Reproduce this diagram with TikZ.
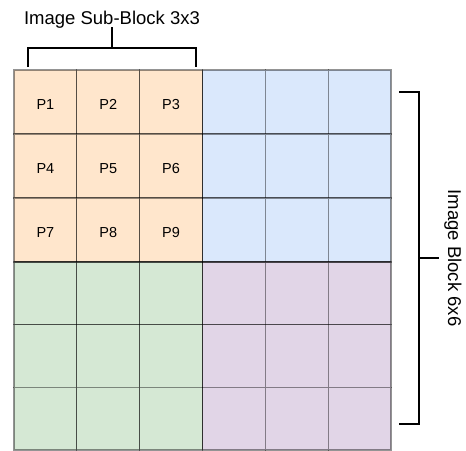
\documentclass[tikz,border=0pt]{standalone}
\usepackage{fontspec}
\setmainfont{Liberation Sans}
\definecolor{tlfill}{HTML}{FFE6CC}
\definecolor{trfill}{HTML}{DAE8FC}
\definecolor{blfill}{HTML}{D5E8D4}
\definecolor{brfill}{HTML}{E1D5E7}
\begin{document}
\begin{tikzpicture}[x=1pt,y=-1pt,
  cell/.style={draw=black, draw opacity=0.42, line width=1.3pt, inner sep=0pt,
    minimum width=62.83pt},
  pixel/.style={inner sep=0pt, text height=10.5pt, text depth=0pt,
    font=\fontsize{14.5}{16}\selectfont},
  divider/.style={draw=black, draw opacity=0.45, line width=1.5pt},
  bracket/.style={draw=black, line width=2pt},
  caption/.style={font=\fontsize{18.5}{21}\selectfont, inner sep=0pt}]
\useasboundingbox (0,0) rectangle (466,450);

% 6x6 block of cells, four 3x3 coloured sub-blocks
\foreach \r in {1,...,6}{
  \foreach \c in {1,...,6}{
    \pgfmathsetmacro{\cx}{14+(\c-0.5)*62.833}
    \pgfmathsetmacro{\cy}{\r<4 ? 70+(\r-0.5)*64 : 262+(\r-3.5)*62.667}
    \pgfmathsetmacro{\ch}{\r<4 ? 64 : 62.667}
    \pgfmathtruncatemacro{\qi}{(\r>3)*2+(\c>3)}
    \ifcase\qi \def\fc{tlfill}\or \def\fc{trfill}\or \def\fc{blfill}\or \def\fc{brfill}\fi
    \node[cell, fill=\fc, minimum height=\ch pt] (c-\r-\c) at (\cx,\cy) {};
    \ifnum\qi=0
      \pgfmathtruncatemacro{\pn}{(\r-1)*3+\c}
      \node[pixel] (p\pn) at (\cx,\cy+2) {P\pn};
    \fi
  }
}

% borders between the sub-blocks
\draw[divider] (202.5,70) -- (202.5,450);
\draw[divider] (14,262) -- (391,262);

% sub-block bracket and caption
\draw[bracket] (28,67) -- (28,48) -- (196,48) -- (196,67);
\draw[bracket] (112,48) -- (112,27);
\node[caption, anchor=base] (subcap) at (112,24.5) {Image Sub-Block 3x3};

% block bracket and caption
\draw[bracket] (399,92) -- (419,92) -- (419,424) -- (399,424);
\draw[bracket] (419,258) -- (439,258);
\node[caption, anchor=base, rotate=-90] (blockcap) at (448,258) {Image Block 6x6};
\end{tikzpicture}
\end{document}
